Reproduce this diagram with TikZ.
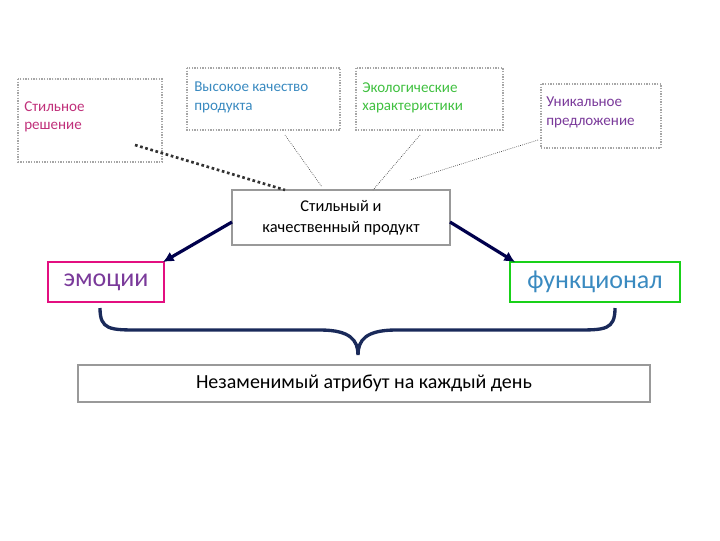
\documentclass[tikz,border=0pt]{standalone}
\usepackage{fontspec}
\setmainfont{Carlito}
\usetikzlibrary{arrows.meta}
\begin{document}
\begin{tikzpicture}[x=0.75pt,y=-0.75pt,
 db/.style={draw=gray!70,densely dotted,line width=1pt},
 lbl/.style={font=\fontsize{11.3}{14}\selectfont,align=left,anchor=north west,inner sep=0pt},
 con/.style={line width=0.5pt,densely dotted,black!80},
 arr/.style={draw=blue!30!black,line width=2.4pt,-{Latex[length=8pt,width=8pt]}}]
\path[use as bounding box] (0,0) rectangle (720,540);
\definecolor{cmag}{HTML}{C0307A}\definecolor{cblue}{HTML}{3A8AC0}
\definecolor{cgreen}{HTML}{40C040}\definecolor{cpurp}{HTML}{7A3A9A}
\definecolor{navy}{HTML}{1A2A5A}
\draw[db] (18,79) rectangle (162,162);
\node[lbl,text=cmag] (t1) at (24,101) {Стильное\\ решение};
\draw[db] (187,68) rectangle (340,130);
\node[lbl,text=cblue] (t2) at (194,82) {Высокое качество\\ продукта};
\draw[db] (356,68) rectangle (503,130);
\node[lbl,text=cgreen] (t3) at (362,82) {Экологические\\ характеристики};
\draw[db] (541,84) rectangle (661,148);
\node[lbl,text=cpurp] (t4) at (546,97) {Уникальное\\ предложение};
\node[draw=gray!80,line width=1.6pt,minimum width=163.5pt,minimum height=41pt,align=center,
 font=\fontsize{12.3}{16}\selectfont] (c) at (341,217.5) {Стильный и\\ качественный продукт};
\node[draw=magenta!80!purple,line width=2pt,minimum width=87pt,minimum height=30pt,
 font=\fontsize{19.5}{21}\selectfont,text=cpurp,inner sep=2pt] (e) at (106,282) {эмоции};
\node[draw=green!80!black!90,line width=2pt,minimum width=127.5pt,minimum height=30pt,
 font=\fontsize{19.5}{21}\selectfont,text=cblue,inner sep=2pt] (f) at (595,282) {функционал};
\node[draw=gray!80,line width=1.6pt,minimum width=429pt,minimum height=28pt,
 font=\fontsize{15}{17}\selectfont] (z) at (364,383.5) {Незаменимый атрибут на каждый день};
\coordinate (p1) at (135,145); \coordinate (q1) at (285,190);
\coordinate (p2) at (285,135); \coordinate (q2) at (322,187);
\coordinate (p3) at (420,135); \coordinate (q3) at (373,190);
\coordinate (p4) at (538,140); \coordinate (q4) at (410,180);
\draw[black!80,dotted,line width=2pt] (p1) -- (q1);
\draw[con] (p2) -- (q2);
\draw[con] (p3) -- (q3);
\draw[con] (p4) -- (q4);
\draw[arr] (232,222) -- (163,262);
\draw[arr] (450,222) -- (515,262);
\draw[navy,line width=2.5pt] (100,308) .. controls (100,330) and (110,330) .. (140,330) -- (320,330)
 .. controls (350,330) and (358,340) .. (358,355)
 .. controls (358,340) and (366,330) .. (396,330) -- (575,330)
 .. controls (605,330) and (615,330) .. (615,308);
\end{tikzpicture}
\end{document}
